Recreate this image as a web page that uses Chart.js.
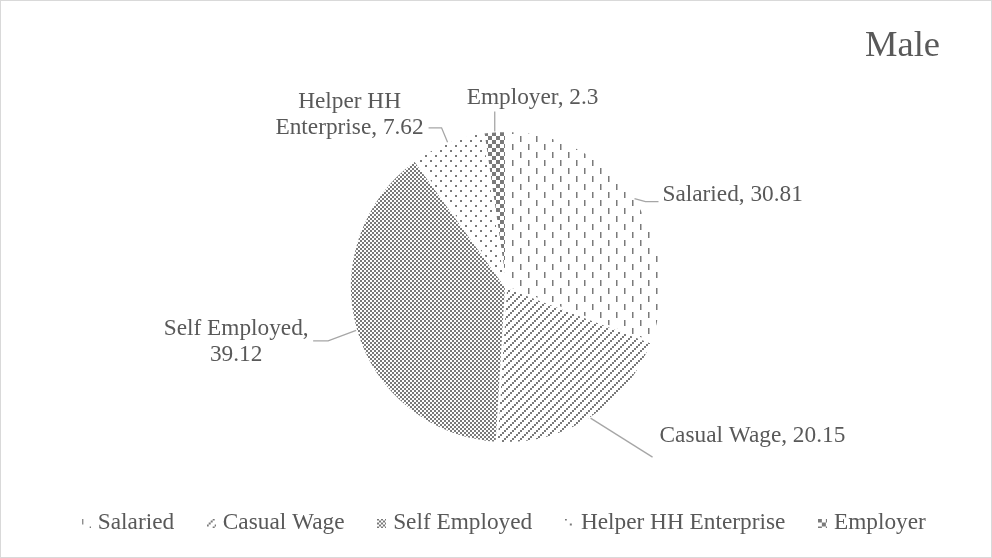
<!DOCTYPE html>
<html>
<head>
<meta charset="utf-8">
<script src="https://cdn.jsdelivr.net/npm/chart.js@4.4.1/dist/chart.umd.min.js"></script>
<style>
  body { margin: 0; background: #fff; }
  #wrap { width: 992px; height: 558px; }
</style>
</head>
<body>
<div id="wrap"><canvas id="pie" width="992" height="558"></canvas></div>
<script>
const categories = ["Salaried", "Casual Wage", "Self Employed", "Helper HH Enterprise", "Employer"];
const shares = [30.81, 20.15, 39.12, 7.62, 2.3];
const chartTitle = "Male";

const INK = "#7a7a7a";
const TEXT = "#595959";
const FONT = "'Liberation Serif', 'Times New Roman', serif";
const LABEL_SIZE = 23.3;

function tile(w, h, paint) {
  const c = document.createElement("canvas");
  c.width = w;
  c.height = h;
  const g = c.getContext("2d");
  g.fillStyle = INK;
  paint(g);
  return c;
}

// dashed vertical, light upward diagonal, fine checker, sparse dots, large checker
const tiles = [
  tile(16, 16, g => { g.fillRect(0, 0, 1.5, 6); g.fillRect(8, 8, 1.5, 6); }),
  tile(8, 8, g => { for (let i = 0; i < 4; i++) g.fillRect(6 - 2 * i, 2 * i, 2, 2); }),
  tile(4, 4, g => { g.fillRect(0, 0, 2, 2); g.fillRect(2, 2, 2, 2); }),
  tile(10, 10, g => { g.fillRect(0, 0, 2, 2); g.fillRect(5, 5, 2, 2); }),
  tile(8, 8, g => { g.fillRect(0, 0, 4, 4); g.fillRect(4, 4, 4, 4); })
];

function marker(t) {
  const c = document.createElement("canvas");
  c.width = 9;
  c.height = 9;
  const g = c.getContext("2d");
  g.fillStyle = g.createPattern(t, "repeat");
  g.fillRect(0, 0, 9, 9);
  return c;
}
const markers = tiles.map(marker);

const canvas = document.getElementById("pie");
const patterns = tiles.map(t => canvas.getContext("2d").createPattern(t, "repeat"));

// where each label and its leader sit, relative to the slice's outer mid point
const labelPlacement = [
  { leader: [[11, 3], [24, 3]], text: [28, -4], align: "left", wrap: 400 },
  { leader: [[62, 39]], text: [69, 18], align: "left", wrap: 400 },
  { leader: [[-28, 10.5], [-43, 10.5]], text: [-120, -1.5], align: "center", wrap: 155 },
  { leader: [[-6, -14.5], [-19, -14.5]], text: [-98, -40], align: "center", wrap: 155 },
  { leader: [[0, -20]], text: [-28, -34], align: "left", wrap: 400 }
];

function wrap(ctx, str, maxWidth) {
  const words = str.split(" ");
  const lines = [];
  let cur = "";
  words.forEach(w => {
    const next = cur ? cur + " " + w : w;
    if (cur && ctx.measureText(next).width > maxWidth) {
      lines.push(cur);
      cur = w;
    } else {
      cur = next;
    }
  });
  if (cur) lines.push(cur);
  return lines;
}

const sliceLabels = {
  id: "sliceLabels",
  beforeDraw(chart) {
    const ctx = chart.ctx;
    ctx.save();
    ctx.fillStyle = "#fff";
    ctx.fillRect(0, 0, chart.width, chart.height);
    ctx.strokeStyle = "#d9d9d9";
    ctx.lineWidth = 1;
    ctx.strokeRect(0.5, 0.5, chart.width - 1, chart.height - 1);
    ctx.restore();
  },
  afterDatasetsDraw(chart) {
    const ctx = chart.ctx;
    const meta = chart.getDatasetMeta(0);
    ctx.save();
    ctx.font = LABEL_SIZE + "px " + FONT;
    ctx.textBaseline = "middle";
    meta.data.forEach((arc, i) => {
      const { x, y, startAngle, endAngle, outerRadius } =
        arc.getProps(["x", "y", "startAngle", "endAngle", "outerRadius"], true);
      const mid = (startAngle + endAngle) / 2;
      const ax = x + Math.cos(mid) * outerRadius;
      const ay = y + Math.sin(mid) * outerRadius;
      const p = labelPlacement[i];

      ctx.strokeStyle = "#a6a6a6";
      ctx.lineWidth = 1.3;
      ctx.beginPath();
      ctx.moveTo(ax, ay);
      p.leader.forEach(([dx, dy]) => ctx.lineTo(ax + dx, ay + dy));
      ctx.stroke();

      const lines = wrap(ctx, categories[i] + ", " + shares[i], p.wrap);
      ctx.fillStyle = TEXT;
      ctx.textAlign = p.align;
      lines.forEach((ln, k) => ctx.fillText(ln, ax + p.text[0], ay + p.text[1] + k * 26));
    });

    ctx.font = "36.5px " + FONT;
    ctx.textAlign = "right";
    ctx.textBaseline = "alphabetic";
    ctx.fillStyle = TEXT;
    ctx.fillText(chartTitle, 940, 56);
    ctx.restore();
  }
};

new Chart(canvas, {
  type: "pie",
  data: {
    labels: categories,
    datasets: [{
      data: shares,
      backgroundColor: patterns,
      borderColor: "#fff",
      borderWidth: 2,
      radius: 156
    }]
  },
  options: {
    responsive: false,
    animation: false,
    events: [],
    layout: {
      padding: { left: 20, right: 0, top: 99.65, bottom: 13.35 }
    },
    plugins: {
      tooltip: { enabled: false },
      legend: {
        position: "bottom",
        labels: {
          usePointStyle: true,
          pointStyleWidth: 0.01,
          padding: 37,
          color: TEXT,
          font: { family: FONT, size: LABEL_SIZE },
          generateLabels: () => categories.map((c, i) => ({
            text: c,
            pointStyle: markers[i],
            fillStyle: "transparent",
            strokeStyle: "transparent",
            fontColor: TEXT,
            lineWidth: 0,
            hidden: false,
            index: i
          }))
        }
      }
    }
  },
  plugins: [sliceLabels]
});
</script>
</body>
</html>
